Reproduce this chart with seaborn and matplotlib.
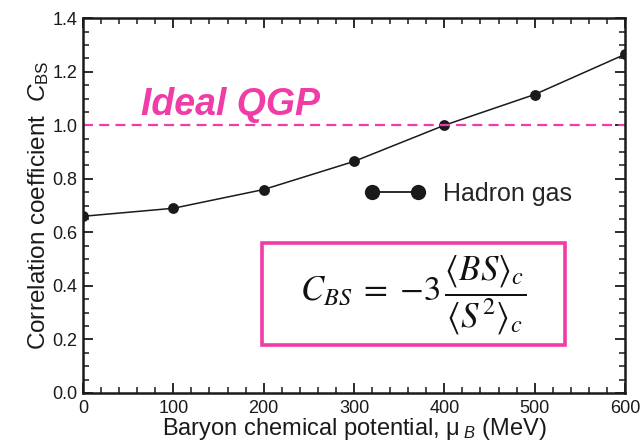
import matplotlib
matplotlib.use("Agg")
import matplotlib.pyplot as plt
import seaborn as sns
import pandas as pd
from matplotlib.lines import Line2D
from matplotlib.patches import Rectangle
from matplotlib.ticker import MultipleLocator

mu_B = [0, 100, 200, 300, 400, 500, 600]
c_bs = [0.66, 0.69, 0.76, 0.865, 1.0, 1.115, 1.265]
qgp_value = 1.0
series_label = "Hadron gas"
qgp_label = "Ideal QGP"
xlabel = r"Baryon chemical potential, $\mathrm{\mu}_{\;B}$ (MeV)"
ylabel = r"Correlation coefficient  $C_{\mathrm{BS}}$"
formula = r"$C_{BS}\;=\;{-}3\,\dfrac{\langle BS\rangle_c}{\langle S^2\rangle_c}$"

MAGENTA = "#F03CA6"
INK = "#1a1a1a"

sns.set_theme(style="ticks")
plt.rcParams["font.family"] = ["Liberation Sans", "DejaVu Sans"]
plt.rcParams["mathtext.fontset"] = "custom"
plt.rcParams["mathtext.rm"] = "Liberation Sans"
plt.rcParams["mathtext.it"] = "Liberation Sans:italic"
plt.rcParams["mathtext.bf"] = "Liberation Sans:bold"

df = pd.DataFrame({"mu": mu_B, "c": c_bs})

fig = plt.figure(figsize=(6.41, 4.43), dpi=100)
ax = fig.add_axes([0.1295, 0.1129, 0.8455, 0.846])

sns.lineplot(data=df, x="mu", y="c", ax=ax, color=INK, lw=1.1,
             marker="o", markersize=7.8, markeredgewidth=0, legend=False)
ax.axhline(qgp_value, color=MAGENTA, lw=1.6, ls=(0, (4.5, 2.8)))

ax.set_xlim(0, 600)
ax.set_ylim(0, 1.4)
ax.xaxis.set_major_locator(MultipleLocator(100))
ax.xaxis.set_minor_locator(MultipleLocator(20))
ax.yaxis.set_major_locator(MultipleLocator(0.2))
ax.yaxis.set_minor_locator(MultipleLocator(0.05))
ax.yaxis.set_major_formatter(matplotlib.ticker.FormatStrFormatter("%.1f"))
ax.tick_params(which="both", direction="in", top=True, right=True,
               labelsize=13, colors=INK)
ax.tick_params(axis="x", pad=5)
ax.tick_params(axis="y", pad=4)
ax.tick_params(which="major", length=7, width=1.3)
ax.tick_params(which="minor", length=4, width=1.1)
for s in ax.spines.values():
    s.set_linewidth(1.8)
    s.set_color(INK)

ax.set_xlabel(xlabel, fontsize=17, labelpad=-1, color=INK)
ax.set_ylabel(ylabel, fontsize=17.5, labelpad=1, color=INK)

ax.text(64, 1.075, qgp_label, color=MAGENTA, fontsize=27, fontweight="bold",
        fontstyle="italic", va="center", ha="left")

handle = Line2D([], [], color=INK, lw=1.3, marker="o", markersize=11,
                markeredgewidth=0)
ax.legend([handle], [series_label], loc="center left",
          bbox_to_anchor=(0.519, 0.531), frameon=False, numpoints=2,
          handlelength=2.44, handletextpad=0.7, fontsize=18,
          borderpad=0, borderaxespad=0)

ax.add_patch(Rectangle((0.330, 0.128), 0.559, 0.272, transform=ax.transAxes,
                       fill=False, edgecolor=MAGENTA, lw=2.6))
ax.text(0.609, 0.262, formula, transform=ax.transAxes, ha="center",
        va="center", fontsize=25, math_fontfamily="stix", color="#111111")

fig.savefig("out.png", dpi=100)
